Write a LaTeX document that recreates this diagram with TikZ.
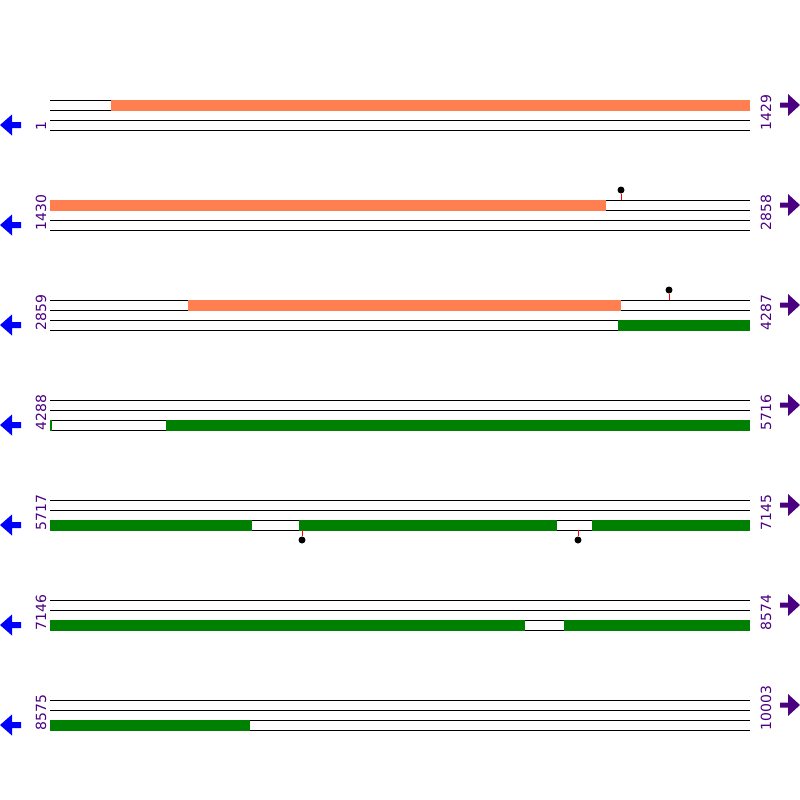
\documentclass[tikz,border=0pt]{standalone}
\usepackage{fontspec}
\setmainfont{DejaVu Sans}
\usepackage{tikz}
\usetikzlibrary{arrows.meta}
\usetikzlibrary{scopes}
\definecolor{featorange}{HTML}{FF7F50}
\definecolor{featgreen}{HTML}{008000}
\definecolor{numpurple}{HTML}{4B0082}
\definecolor{revblue}{HTML}{0000FF}

\begin{document}
\begin{tikzpicture}[x=0.5pt,y=-0.5pt,
    strand/.style={draw=black,line width=0.5pt},
    revarrow/.pic={\fill[revblue] (0,0) -- (12,-10.5) -- (12,-3) -- (21,-3) -- (21,3) -- (12,3) -- (12,10.5) -- cycle;},
    fwdarrow/.pic={\fill[numpurple] (20,0) -- (8,-11) -- (8,-2.5) -- (0,-2.5) -- (0,2.5) -- (8,2.5) -- (8,11) -- cycle;}]
\useasboundingbox (0,0) rectangle (800,800);

% the four strands of every row
\path[strand] (50,100) -- (750,100) (50,110) -- (750,110) (50,120) -- (750,120) (50,130) -- (750,130);
\path[strand] (50,200) -- (750,200) (50,210) -- (750,210) (50,220) -- (750,220) (50,230) -- (750,230);
\path[strand] (50,300) -- (750,300) (50,310) -- (750,310) (50,320) -- (750,320) (50,330) -- (750,330);
\path[strand] (50,400) -- (750,400) (50,410) -- (750,410) (50,420) -- (750,420) (50,430) -- (750,430);
\path[strand] (50,500) -- (750,500) (50,510) -- (750,510) (50,520) -- (750,520) (50,530) -- (750,530);
\path[strand] (50,600) -- (750,600) (50,610) -- (750,610) (50,620) -- (750,620) (50,630) -- (750,630);
\path[strand] (50,700) -- (750,700) (50,710) -- (750,710) (50,720) -- (750,720) (50,730) -- (750,730);

% features
\begin{scope}[every path/.style={fill=featorange}]
    \path (111,99.5) rectangle (750,110.5);
    \path (50,199.5) rectangle (606,210.5);
    \path (188,299.5) rectangle (621,310.5);
\end{scope}
\begin{scope}[every path/.style={fill=featgreen}]
    \path (618,319.5) rectangle (750,330.5);
    \path (50,419.5) rectangle (52,430.5);
    \path (166,419.5) rectangle (750,430.5);
    \path (50,519.5) rectangle (252,530.5);
    \path (299,519.5) rectangle (557,530.5);
    \path (592,519.5) rectangle (750,530.5);
    \path (50,619.5) rectangle (525,630.5);
    \path (564,619.5) rectangle (750,630.5);
    \path (50,719.5) rectangle (250,730.5);
\end{scope}

% sites
\begin{scope}[every node/.style={circle,fill=black,inner sep=0pt,minimum size=3.5pt}]
    \node (S1) at (621,190) {};
    \node (S2) at (669,290) {};
    \node (S3) at (302,540) {};
    \node (S4) at (578,540) {};
\end{scope}
\coordinate (B1) at (621,200);
\coordinate (B2) at (669,300);
\coordinate (B3) at (302,530);
\coordinate (B4) at (578,530);
\begin{scope}[every path/.style={draw=red,line width=0.5pt}]
    \path (B1) -- (S1);
    \path (B2) -- (S2);
    \path (B3) -- (S3);
    \path (B4) -- (S4);
\end{scope}

% positions
\begin{scope}[every node/.style={rotate=90,anchor=west,inner sep=0pt,text=numpurple,font=\fontsize{7}{8}\selectfont}]
    \node (L1) at (41,131) {1};
    \node (R1) at (766,131) {1429};
    \node (L2) at (41,231) {1430};
    \node (R2) at (766,231) {2858};
    \node (L3) at (41,331) {2859};
    \node (R3) at (766,331) {4287};
    \node (L4) at (41,431) {4288};
    \node (R4) at (766,431) {5716};
    \node (L5) at (41,531) {5717};
    \node (R5) at (766,531) {7145};
    \node (L6) at (41,631) {7146};
    \node (R6) at (766,631) {8574};
    \node (L7) at (41,731) {8575};
    \node (R7) at (766,731) {10003};
\end{scope}

% direction arrows
\pic at (0,125) {revarrow};
\pic at (0,225) {revarrow};
\pic at (0,325) {revarrow};
\pic at (0,425) {revarrow};
\pic at (0,525) {revarrow};
\pic at (0,625) {revarrow};
\pic at (0,725) {revarrow};
\pic at (780,105) {fwdarrow};
\pic at (780,205) {fwdarrow};
\pic at (780,305) {fwdarrow};
\pic at (780,405) {fwdarrow};
\pic at (780,505) {fwdarrow};
\pic at (780,605) {fwdarrow};
\pic at (780,705) {fwdarrow};
\end{tikzpicture}
\end{document}
